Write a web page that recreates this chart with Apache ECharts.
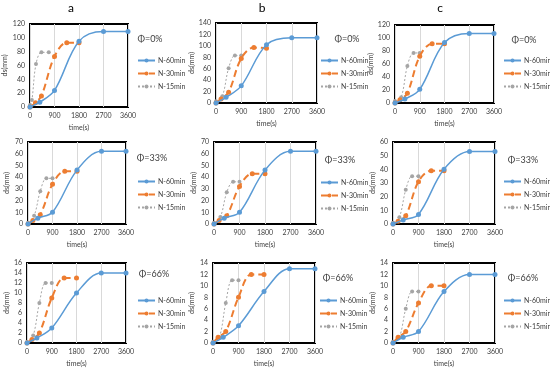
<!DOCTYPE html>
<html><head><meta charset="utf-8">
<script src="https://cdn.jsdelivr.net/npm/echarts@6/dist/echarts.min.js"></script>
<style>html,body{margin:0;padding:0;background:#fff}#c{width:550px;height:368px}</style>
</head><body><div id="c"></div>
<script>
// ---- data ----
const columnTitles = ['a', 'b', 'c'];
const phiLabels = ['Φ=0%', 'Φ=33%', 'Φ=66%'];
const seriesNames = ['N-60min', 'N-30min', 'N-15min'];
const xTicks = [0, 900, 1800, 2700, 3600];

const times60 = [0, 360, 900, 1800, 2700, 3600];
const times30 = [0, 180, 450, 900, 1350, 1800];
const times15 = [0, 225, 450, 675, 900];
const times30_a0 = [0, 200, 420, 900, 1350, 1800];
const times15_a0 = [0, 70, 220, 420, 690];

// row 1 (Φ=0%)
const a0_60 = [0, 7, 24, 95, 109, 109];
const a0_30 = [0, 6, 16, 73, 93, 93];
const a0_15 = [3, 10, 62, 79, 79];
const b0_60 = [0, 10, 30, 102, 114, 114];
const b0_30 = [0, 7, 19, 78, 97, 96];
const b0_15 = [3, 12, 61, 83, 83];
const c0_60 = [0, 6, 21, 93, 107, 107];
const c0_30 = [0, 5, 15, 72, 91, 91];
const c0_15 = [3, 9, 57, 77, 77];
// row 2 (Φ=33%)
const a33_60 = [0, 5, 10, 46, 62, 62];
const a33_30 = [0, 3, 8, 34, 45, 45];
const a33_15 = [1, 7, 28, 39, 39];
const b33_60 = [0, 5, 10, 46, 62, 62];
const b33_30 = [0, 3, 7, 32, 43, 43];
const b33_15 = [1, 6, 27, 36, 36];
const c33_60 = [0, 3, 7, 40, 53, 53];
const c33_30 = [0, 2, 6, 31, 39, 39];
const c33_15 = [1, 5, 25, 35, 35];
// row 3 (Φ=66%)
const a66_60 = [0, 1, 3, 10, 14, 14];
const a66_30 = [0, 0.7, 2, 9, 13, 13];
const a66_15 = [0.2, 1.5, 8, 12, 12];
const b66_60 = [0, 1, 3, 9, 13, 13];
const b66_30 = [0, 1, 2, 8, 12, 12];
const b66_15 = [0.2, 1, 7, 11, 11];
const c66_60 = [0, 1, 2, 9, 12, 12];
const c66_30 = [0, 1, 2, 7, 10, 10];
const c66_15 = [0.2, 1, 6, 9, 9];

const yMax = [120, 140, 120, 70, 70, 60, 16, 14, 14];
const yStep = [20, 20, 20, 10, 10, 10, 2, 2, 2];

const panelData = [
  [[times60, a0_60], [times30_a0, a0_30], [times15_a0, a0_15]],
  [[times60, b0_60], [times30, b0_30], [times15, b0_15]],
  [[times60, c0_60], [times30, c0_30], [times15, c0_15]],
  [[times60, a33_60], [times30, a33_30], [times15, a33_15]],
  [[times60, b33_60], [times30, b33_30], [times15, b33_15]],
  [[times60, c33_60], [times30, c33_30], [times15, c33_15]],
  [[times60, a66_60], [times30, a66_30], [times15, a66_15]],
  [[times60, b66_60], [times30, b66_30], [times15, b66_15]],
  [[times60, c66_60], [times30, c66_30], [times15, c66_15]]
];

// ---- layout ----
const gridBoxes = [
  [29, 24, 99, 83], [216, 23, 101, 80], [395, 25, 99, 78],
  [28, 142, 98, 82], [214, 142, 102, 82], [393, 142, 102, 82],
  [27, 263, 99, 80], [213, 263, 102, 80], [393, 263, 102, 80]
];
const yNameGap = [22, 19, 19, 18, 16, 15, 17, 18, 17];
const legendPos = [
  [137, 57], [320, 57], [503, 57],
  [137, 178], [320, 179], [503, 178],
  [137, 297], [319, 297], [503, 297]
];
const phiPos = [
  [150, 39], [347, 39], [524, 40],
  [152, 158], [340, 160], [523, 160],
  [154, 274], [338, 278], [523, 278]
];
const titlePos = [[71, 8], [262, 8], [440, 8]];

const FONT = 'Lato, "Open Sans", sans-serif';
const TXT = '#404040';
const colors = ['#5B9BD5', '#ED7D31', '#A5A5A5'];
const lineStyles = [
  { width: 1.5, type: 'solid' },
  { width: 2, type: [7, 4] },
  { width: 1, type: [2, 2] }
];

const grid = [], xAxis = [], yAxis = [], series = [], legend = [], graphic = [];
for (let i = 0; i < 9; i++) {
  const g = gridBoxes[i];
  grid.push({ left: g[0], top: g[1], width: g[2], height: g[3], show: true,
    borderColor: '#000', borderWidth: 2, backgroundColor: '#fff' });
  xAxis.push({ type: 'value', gridIndex: i, min: xTicks[0], max: xTicks[xTicks.length - 1],
    interval: xTicks[1] - xTicks[0],
    name: 'time(s)', nameLocation: 'middle', nameGap: 17,
    nameTextStyle: { fontSize: 7, color: TXT, fontFamily: FONT },
    axisLine: { show: false }, axisTick: { show: false },
    axisLabel: { fontSize: 7, color: TXT, fontFamily: FONT, margin: 5, formatter: v => String(v) },
    splitLine: { show: true, lineStyle: { color: '#d9d9d9', width: 1 } } });
  yAxis.push({ type: 'value', gridIndex: i, min: 0, max: yMax[i], interval: yStep[i],
    name: 'ds(mm)', nameLocation: 'middle', nameGap: yNameGap[i],
    nameTextStyle: { fontSize: 7, color: TXT, fontFamily: FONT },
    axisLine: { show: false }, axisTick: { show: false },
    axisLabel: { fontSize: 7, color: TXT, fontFamily: FONT, margin: 5, formatter: v => String(v) },
    splitLine: { show: false } });
  panelData[i].forEach((pair, k) => {
    series.push({ type: 'line', name: seriesNames[k], xAxisIndex: i, yAxisIndex: i,
      smooth: 0.35, symbol: 'circle', symbolSize: k === 2 ? 4 : 5,
      itemStyle: { color: colors[k] },
      lineStyle: Object.assign({ color: colors[k] }, lineStyles[k]),
      data: pair[0].map((t, j) => [t, pair[1][j]]), z: 5 - k });
  });
  legend.push({ data: seriesNames, orient: 'vertical', left: legendPos[i][0], top: legendPos[i][1],
    padding: 0, itemWidth: 17, itemHeight: 5, itemGap: 6, selectedMode: false,
    textStyle: { fontSize: 7, color: TXT, fontFamily: FONT, padding: [0, 0, 0, -2] } });
  graphic.push({ type: 'text', x: phiPos[i][0], y: phiPos[i][1],
    style: { text: phiLabels[Math.floor(i / 3)], fontSize: 9, fill: TXT, fontFamily: FONT,
      textAlign: 'center', textVerticalAlign: 'middle' } });
}
for (let c = 0; c < 3; c++) {
  graphic.push({ type: 'text', x: titlePos[c][0], y: titlePos[c][1],
    style: { text: columnTitles[c], fontSize: 12, fill: '#000', fontFamily: FONT,
      textAlign: 'center', textVerticalAlign: 'middle' } });
}

const chart = echarts.init(document.getElementById('c'), null, { renderer: 'canvas' });
chart.setOption({ animation: false, backgroundColor: '#fff', grid, xAxis, yAxis, series, legend, graphic });
</script></body></html>
